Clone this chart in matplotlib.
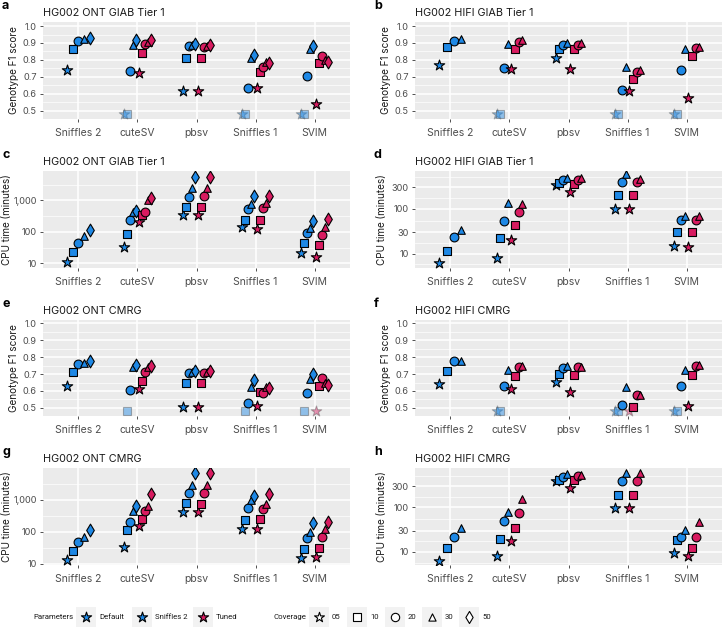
import numpy as np
import matplotlib.pyplot as plt
from matplotlib.patches import Rectangle

plt.rcParams['font.family'] = ['Inter', 'DejaVu Sans']

tools = ["Sniffles 2", "cuteSV", "pbsv", "Sniffles 1", "SVIM"]
cov_ont = ["05", "10", "20", "30", "50"]
cov_hifi = ["05", "10", "20", "30"]

nan = np.nan  # failed run -> drawn faded at the bottom
# None = no point at all
# rows of *_default / *_tuned: cuteSV, pbsv, Sniffles 1, SVIM

# a: HG002 ONT GIAB Tier 1, F1
ont_giab_f1_sn2 = [0.74, 0.865, 0.912, 0.925, 0.928]
ont_giab_f1_default = [[nan, nan, 0.732, 0.885, 0.92],
                       [0.618, 0.81, 0.88, 0.886, 0.894],
                       [nan, nan, 0.634, 0.81, 0.83],
                       [nan, nan, 0.706, 0.864, 0.884]]
ont_giab_f1_tuned = [[0.72, 0.84, 0.896, 0.908, 0.92],
                     [0.618, 0.81, 0.878, 0.884, 0.89],
                     [0.636, 0.728, 0.76, 0.79, 0.784],
                     [0.538, 0.78, 0.82, 0.80, 0.786]]

# b: HG002 HIFI GIAB Tier 1, F1
hifi_giab_f1_sn2 = [0.77, 0.876, 0.914, 0.924]
hifi_giab_f1_default = [[nan, nan, 0.752, 0.894],
                        [0.81, 0.866, 0.89, 0.898],
                        [nan, nan, 0.624, 0.76],
                        [nan, nan, 0.74, 0.866]]
hifi_giab_f1_tuned = [[0.746, 0.864, 0.908, 0.92],
                      [0.746, 0.866, 0.89, 0.898],
                      [0.614, 0.684, 0.728, 0.74],
                      [0.574, 0.822, 0.87, 0.878]]

# c: HG002 ONT GIAB Tier 1, CPU minutes
ont_giab_cpu_sn2 = [11.5, 23, 46, 72, 113]
ont_giab_cpu_default = [[34, 83, 235, 437, 457],
                        [344, 620, 1300, 2450, 5650],
                        [143, 240, 515, 750, 1330],
                        [21, 46, 91, 133, 214]]
ont_giab_cpu_tuned = [[204, 344, 437, 1050, 1180],
                      [344, 620, 1360, 2530, 5650],
                      [124, 235, 590, 826, 1330],
                      [15.7, 38, 79, 143, 252]]

# d: HG002 HIFI GIAB Tier 1, CPU minutes
hifi_giab_cpu_sn2 = [6.3, 11.7, 23.3, 34]
hifi_giab_cpu_default = [[8.1, 22, 55, 132],
                         [342, 386, 443, 500],
                         [100, 203, 400, 614],
                         [15, 30, 56, 71]]
hifi_giab_cpu_tuned = [[20.7, 43.6, 84, 130],
                       [242, 354, 443, 483],
                       [100, 203, 400, 458],
                       [14, 31, 56, 70]]

# e: HG002 ONT CMRG, F1
ont_cmrg_f1_sn2 = [0.632, 0.711, 0.757, 0.765, 0.777]
ont_cmrg_f1_default = [[None, nan, 0.606, 0.741, 0.751],
                       [0.508, 0.647, 0.705, 0.711, 0.719],
                       [None, nan, 0.526, 0.625, 0.667],
                       [None, nan, 0.588, 0.671, 0.70]]
ont_cmrg_f1_tuned = [[0.612, 0.66, 0.711, 0.739, 0.747],
                     [0.508, 0.647, 0.705, 0.713, 0.721],
                     [0.512, 0.596, 0.588, 0.625, 0.618],
                     [nan, 0.63, 0.675, 0.647, 0.637]]

# f: HG002 HIFI CMRG, F1
hifi_cmrg_f1_sn2 = [0.641, 0.721, 0.775, 0.777]
hifi_cmrg_f1_default = [[nan, nan, 0.627, 0.727],
                        [0.651, 0.703, 0.737, 0.747],
                        [nan, nan, 0.516, 0.622],
                        [nan, nan, 0.627, 0.727]]
hifi_cmrg_f1_tuned = [[0.612, 0.689, 0.739, 0.745],
                      [0.596, 0.695, 0.741, 0.743],
                      [nan, 0.506, 0.576, 0.576],
                      [0.512, 0.695, 0.747, 0.751]]

# g: HG002 ONT CMRG, CPU minutes
ont_cmrg_cpu_sn2 = [13, 24, 46, 70, 115]
ont_cmrg_cpu_default = [[32, 112, 198, 430, 647],
                        [400, 785, 1620, 2960, 6880],
                        [120, 236, 560, 950, 1270],
                        [15, 28, 61, 97, 185]]
ont_cmrg_cpu_tuned = [[145, 246, 430, 632, 1545],
                      [400, 750, 1620, 2960, 6880],
                      [120, 253, 497, 750, 1545],
                      [16.6, 31, 66, 117, 198]]

# h: HG002 HIFI CMRG, CPU minutes
hifi_cmrg_cpu_sn2 = [6.3, 12.5, 22, 35]
hifi_cmrg_cpu_default = [[8.3, 19.6, 49, 81],
                         [386, 420, 483, 565],
                         [95, 193, 386, 594],
                         [9.7, 18.7, 22, 31]]
hifi_cmrg_cpu_tuned = [[17.7, 35.4, 74.6, 157],
                       [273, 407, 500, 546],
                       [98, 193, 386, 594],
                       [8.3, 12.1, 21.8, 46.7]]

blue = "#1E88E5"
red = "#D81B60"
shapes = {"05": "*", "10": "s", "20": "o", "30": "^", "50": "d"}
sizes = {"05": 62, "10": 30, "20": 40, "30": 30, "50": 42}
grey_txt = "#4d4d4d"
missing_y = 0.48

W, H = 722, 643
fig = plt.figure(figsize=(W / 100, H / 100), dpi=100)


def px_axes(x0, y0, x1, y1):
    return fig.add_axes([x0 / W, 1 - y1 / H, (x1 - x0) / W, (y1 - y0) / H])


def draw_panel(ax, sn2, default, tuned, covs, log, ylim, title, letter, label_x):
    ax.set_facecolor("#ebebeb")
    for s in ax.spines.values():
        s.set_visible(False)
    for j, tool in enumerate(tools):
        if j == 0:
            groups = [(blue, c, sn2[k]) for k, c in enumerate(covs)]
        else:
            groups = [(blue, c, default[j - 1][k]) for k, c in enumerate(covs)]
            groups += [(red, c, tuned[j - 1][k]) for k, c in enumerate(covs)]
        n = len(groups)
        for g, (col, c, v) in enumerate(groups):
            if v is None:
                continue
            x = j + (g - (n - 1) / 2) * 0.5 / n
            if np.isnan(v):
                ax.scatter(x, missing_y, marker=shapes[c], s=sizes[c], color=col,
                           edgecolor="#555555", linewidth=0.8, alpha=0.45, zorder=3)
            else:
                ax.scatter(x, v, marker=shapes[c], s=sizes[c], color=col,
                           edgecolor="black", linewidth=0.8, zorder=4)
    ax.set_xlim(-0.6, len(tools) - 0.4)
    ax.set_xticks(range(len(tools)))
    ax.set_xticklabels(tools)
    if log:
        ax.set_yscale("log")
        if len(covs) == 5:
            major = [10, 100, 1000]
        else:
            major = [10, 30, 100, 300]
        lm = np.log10(major)
        d0, d1 = lm[1] - lm[0], lm[-1] - lm[-2]
        ext = np.concatenate([[lm[0] - d0], lm, [lm[-1] + d1]])
        minor = 10 ** ((ext[:-1] + ext[1:]) / 2)
        ax.set_yticks(major)
        ax.set_yticklabels([f"{m:,}" for m in major])
        ax.set_yticks(minor, minor=True)
        ax.set_yticklabels([], minor=True)
        ax.set_ylabel("CPU time (minutes)", fontsize=7.2, color="#1a1a1a")
    else:
        ax.set_yticks(np.arange(0.5, 1.01, 0.1))
        ax.set_yticklabels([f"{t:.1f}" for t in np.arange(0.5, 1.01, 0.1)])
        ax.set_yticks(np.arange(0.45, 1.0, 0.1), minor=True)
        ax.set_ylabel("Genotype F1 score", fontsize=7.2, color="#1a1a1a")
    ax.set_ylim(*ylim)
    pos = ax.get_position()
    ax.yaxis.set_label_coords((label_x / W - pos.x0) / pos.width, 0.5)
    ax.yaxis.label.set_va("center")
    ax.grid(True, which="major", color="white", linewidth=1.1, zorder=0)
    ax.grid(True, which="minor", axis="y", color="white", linewidth=0.5, zorder=0)
    ax.set_axisbelow(True)
    ax.tick_params(axis="both", which="major", labelsize=6.6, colors="#333333",
                   labelcolor=grey_txt, length=2.5, width=0.6, pad=2)
    ax.tick_params(axis="x", labelsize=7.5, pad=4)
    ax.tick_params(which="minor", length=0)
    ax.set_title(title, loc="left", fontsize=7.8, pad=4, color="#1a1a1a")
    fig.text(pos.x0 - 41 / W, pos.y1 + 10 / H, letter, fontsize=9, fontweight="bold",
             va="bottom", ha="left")


rows = [(22, 119), (171, 268), (320, 416), (468, 565)]
cols = [(43, 350), (415, 722)]
# y-label centre x (pixels): [F1, CPU] per column
label_xs = [(14, 7), (386, 382)]

panels = [
    (ont_giab_f1_sn2, ont_giab_f1_default, ont_giab_f1_tuned, cov_ont, False,
     (0.45, 1.024), "HG002 ONT GIAB Tier 1", "a"),
    (hifi_giab_f1_sn2, hifi_giab_f1_default, hifi_giab_f1_tuned, cov_hifi, False,
     (0.45, 1.024), "HG002 HIFI GIAB Tier 1", "b"),
    (ont_giab_cpu_sn2, ont_giab_cpu_default, ont_giab_cpu_tuned, cov_ont, True,
     (7.2, 8500), "HG002 ONT GIAB Tier 1", "c"),
    (hifi_giab_cpu_sn2, hifi_giab_cpu_default, hifi_giab_cpu_tuned, cov_hifi, True,
     (4.8, 700), "HG002 HIFI GIAB Tier 1", "d"),
    (ont_cmrg_f1_sn2, ont_cmrg_f1_default, ont_cmrg_f1_tuned, cov_ont, False,
     (0.452, 1.02), "HG002 ONT CMRG", "e"),
    (hifi_cmrg_f1_sn2, hifi_cmrg_f1_default, hifi_cmrg_f1_tuned, cov_hifi, False,
     (0.452, 1.02), "HG002 HIFI CMRG", "f"),
    (ont_cmrg_cpu_sn2, ont_cmrg_cpu_default, ont_cmrg_cpu_tuned, cov_ont, True,
     (9.0, 9800), "HG002 ONT CMRG", "g"),
    (hifi_cmrg_cpu_sn2, hifi_cmrg_cpu_default, hifi_cmrg_cpu_tuned, cov_hifi, True,
     (5.1, 770), "HG002 HIFI CMRG", "h"),
]

for i, p in enumerate(panels):
    r, c = divmod(i, 2)
    ax = px_axes(cols[c][0], rows[r][0], cols[c][1], rows[r][1])
    draw_panel(ax, *p, label_x=label_xs[c][1 if p[4] else 0])

# legend drawn in pixel coords
lg = fig.add_axes([0, 0, 1, 1])
lg.set_xlim(0, W)
lg.set_ylim(H, 0)
lg.axis("off")
ly = 617
leg_font = dict(fontsize=5.6, va="center", ha="left", color="#1a1a1a",
                family=["Roboto", "DejaVu Sans"])
lg.text(33, ly, "Parameters", **leg_font)
lg.text(273, ly, "Coverage", **leg_font)
param_items = [("Default", blue, 76), ("Sniffles 2", blue, 132), ("Tuned", red, 193)]
for lab, col, x0 in param_items:
    lg.add_patch(Rectangle((x0, ly - 10), 20, 20, color="#f2f2f2", lw=0))
    lg.scatter(x0 + 10, ly, marker="*", s=60, color=col, edgecolor="black", linewidth=0.8)
    lg.text(x0 + 23, ly, lab, **leg_font)
cov_x = [309, 347, 385, 422, 459]
for c, x0 in zip(cov_ont, cov_x):
    lg.add_patch(Rectangle((x0, ly - 10), 20, 20, color="#f2f2f2", lw=0))
    lg.scatter(x0 + 10, ly, marker=shapes[c], s=sizes[c] * 0.9, color="white",
               edgecolor="black", linewidth=0.8)
    lg.text(x0 + 23, ly, c, **leg_font)

fig.savefig("out.png", dpi=100)
